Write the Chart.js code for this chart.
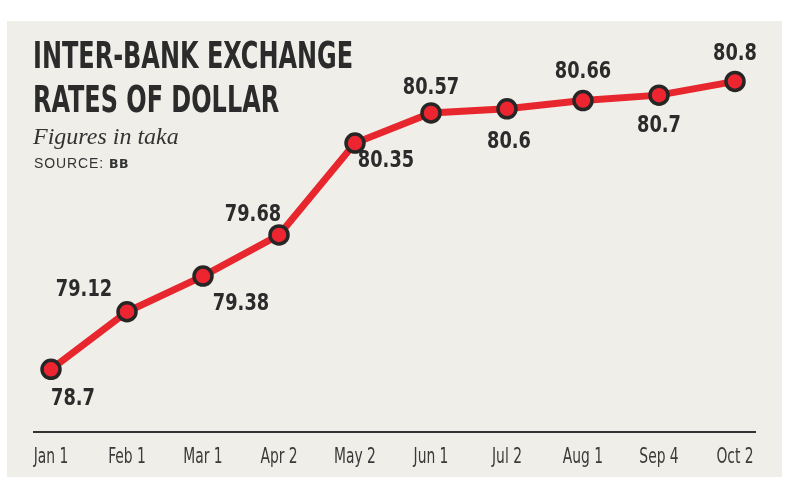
<!DOCTYPE html>
<html>
<head>
<meta charset="utf-8">
<script src="https://cdn.jsdelivr.net/npm/chart.js@4.4.1/dist/chart.umd.min.js"></script>
<style>
  html, body { margin: 0; padding: 0; background: #fff; }
  #wrap { position: relative; width: 806px; height: 481px; overflow: hidden; }
  #panel { position: absolute; left: 7px; top: 21px; width: 775px; height: 456px; background: #efeee9; }
  canvas { position: absolute; left: 0; top: 0; }
  #title { position: absolute; left: 33px; top: 34px; font-family: 'DejaVu Sans Condensed', 'DejaVu Sans', sans-serif; font-size: 37px; font-weight: bold; line-height: 44px; color: #2b2b2b; white-space: nowrap; transform-origin: 0 0; transform: scaleX(0.72); }
  #sub { position: absolute; left: 33px; top: 123px; font-family: 'Liberation Serif', 'DejaVu Serif', serif; font-style: italic; font-size: 24px; color: #333; }
  #src { position: absolute; left: 34px; top: 155px; font-family: 'Liberation Sans', Arial, sans-serif; font-size: 14px; color: #333; letter-spacing: 0.9px; }
  #src b { font-family: 'DejaVu Sans', sans-serif; font-size: 12.5px; letter-spacing: 0.5px; }
</style>
</head>
<body>
<div id="wrap">
  <div id="panel"></div>
  <canvas id="chart" width="806" height="481"></canvas>
  <div id="title">INTER-BANK EXCHANGE<br>RATES OF DOLLAR</div>
  <div id="sub">Figures in taka</div>
  <div id="src">SOURCE: <b>BB</b></div>
</div>
<script>
const dates = ['Jan 1', 'Feb 1', 'Mar 1', 'Apr 2', 'May 2', 'Jun 1', 'Jul 2', 'Aug 1', 'Sep 4', 'Oct 2'];
const rates = [78.7, 79.12, 79.38, 79.68, 80.35, 80.57, 80.6, 80.66, 80.7, 80.8];

// where each value label sits relative to its dot
const labelOffsets = [
  [22, 30], [-43, -22], [38, 28], [-26, -20], [31, 18],
  [0, -25], [2, 33], [0, -29], [0, 31], [0, -27]
];

const condFont = "'DejaVu Sans Condensed', 'DejaVu Sans', sans-serif";

// draw text squeezed horizontally (no narrow font installed)
function squeezedText(ctx, text, x, y, sx) {
  ctx.save();
  ctx.translate(x, y);
  ctx.scale(sx, 1);
  ctx.fillText(text, 0, 0);
  ctx.restore();
}

// value labels next to the dots
const valueLabels = {
  id: 'valueLabels',
  afterDatasetsDraw(chart) {
    const ctx = chart.ctx;
    const meta = chart.getDatasetMeta(0);
    ctx.save();
    ctx.font = 'bold 23px ' + condFont;
    ctx.fillStyle = '#2b2b2b';
    ctx.textAlign = 'center';
    ctx.textBaseline = 'middle';
    meta.data.forEach((pt, i) => {
      const off = labelOffsets[i];
      squeezedText(ctx, String(rates[i]), pt.x + off[0], pt.y + off[1], 0.86);
    });
    ctx.restore();
  }
};

// base line and date labels
const baseAxis = {
  id: 'baseAxis',
  beforeDatasetsDraw(chart) {
    const ctx = chart.ctx;
    const area = chart.chartArea;
    const xs = chart.scales.x;
    const y = area.bottom + 1;
    ctx.save();
    ctx.strokeStyle = '#333';
    ctx.lineWidth = 2;
    ctx.beginPath();
    ctx.moveTo(area.left - 18, y);
    ctx.lineTo(area.right + 21, y);
    ctx.stroke();
    ctx.font = '22px ' + condFont;
    ctx.fillStyle = '#3a3a3a';
    ctx.textAlign = 'center';
    ctx.textBaseline = 'alphabetic';
    dates.forEach((d, i) => {
      squeezedText(ctx, d, xs.getPixelForTick(i), y + 31, 0.7);
    });
    ctx.restore();
  }
};

new Chart(document.getElementById('chart'), {
  type: 'line',
  data: {
    labels: dates,
    datasets: [{
      data: rates,
      borderColor: '#e8262d',
      borderWidth: 7,
      tension: 0,
      pointRadius: 9,
      pointBackgroundColor: '#ec2530',
      pointBorderColor: '#262626',
      pointBorderWidth: 3.5,
      clip: false
    }]
  },
  options: {
    responsive: false,
    animation: false,
    events: [],
    layout: { padding: { top: 54, left: 51, right: 71, bottom: 0 } },
    plugins: { legend: { display: false }, tooltip: { enabled: false } },
    scales: {
      x: {
        grid: { display: false },
        border: { display: false },
        afterFit(scale) { scale.height = 50; },
        ticks: { display: false, autoSkip: false }
      },
      y: {
        display: false,
        min: 78.25,
        max: 81.0
      }
    }
  },
  plugins: [baseAxis, valueLabels]
});
</script>
</body>
</html>
